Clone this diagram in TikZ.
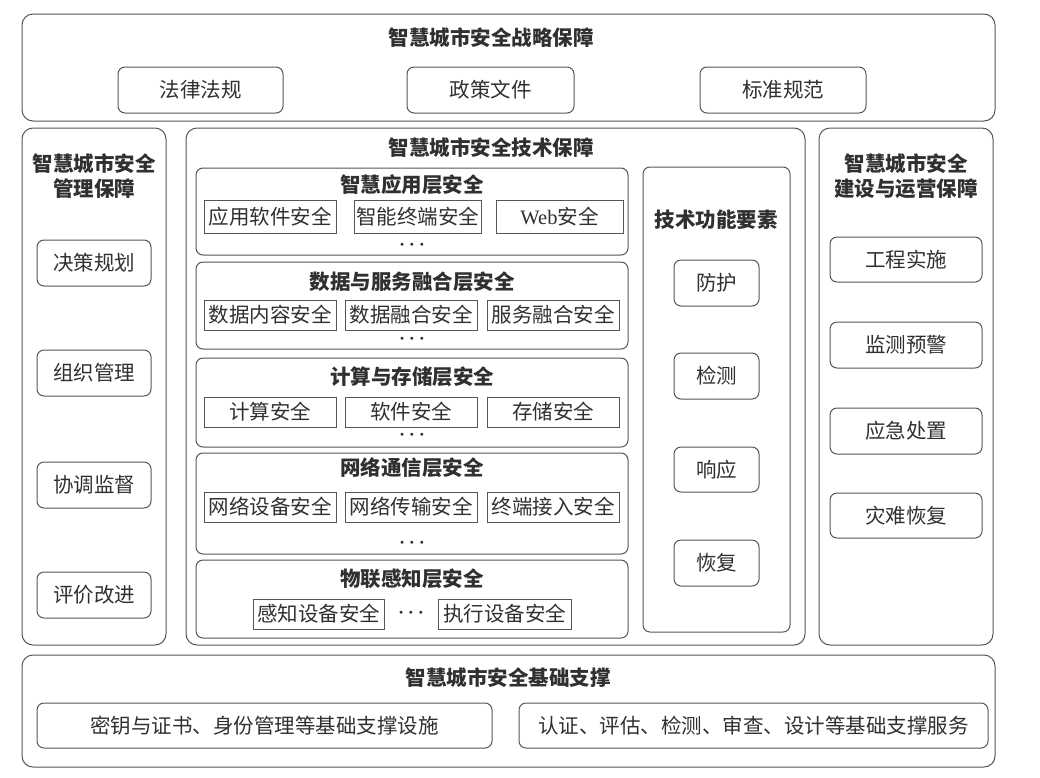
\documentclass[tikz,border=0pt]{standalone}
\usepackage{fontspec}
\setmainfont{Noto Sans CJK SC}
\newfontfamily\serifw{Liberation Serif}
\definecolor{ln}{HTML}{555555}
\definecolor{tx}{HTML}{303030}
\newcommand\bx[7]{\node[#6, minimum width={(#4-#2)*1pt}, minimum height={(#5-#3)*1pt}] (#1) at ({(#2+#4)/2},{(#3+#5)/2}) {#7};}
\newcommand\mydots{$\bullet\hspace{4pt}\bullet\hspace{4pt}\bullet$}
\tikzset{
  outer/.style={draw=ln, line width=1pt, rounded corners=11pt, inner sep=0pt, outer sep=0pt},
  rbox/.style={draw=ln, line width=1pt, rounded corners=7pt, inner sep=1pt, outer sep=0pt, text=tx, font=\fontsize{20.5}{22}\selectfont},
  sbox/.style={draw=ln, line width=1pt, inner sep=0.5pt, outer sep=0pt, text=tx, font=\fontsize{20.5}{22}\selectfont},
  ttl/.style={text=tx, align=center, inner sep=0pt, font=\fontsize{20.5}{25}\selectfont\bfseries},
  dts/.style={text=tx, inner sep=0pt, font=\fontsize{7}{7}\selectfont},
}
\begin{document}
\begin{tikzpicture}[x=1pt,y=-1pt]
\useasboundingbox[fill=white] (0,0) rectangle (1040,777);
% strategic
\bx{strat}{22}{14}{995}{121}{outer}{}
\node[ttl] (stratT) at (491,38) {智慧城市安全战略保障};
\bx{s1}{118}{67}{283}{113}{rbox}{法律法规}
\bx{s2}{407}{67}{574}{113}{rbox}{政策文件}
\bx{s3}{700}{67}{866}{113}{rbox}{标准规范}
% management
\bx{mgmt}{22}{128}{166}{645}{outer}{}
\node[ttl] (mgmtT) at (94,176) {智慧城市安全\\管理保障};
\bx{m1}{37}{240}{151}{286}{rbox}{决策规划}
\bx{m2}{37}{350}{151}{396}{rbox}{组织管理}
\bx{m3}{37}{462}{151}{508}{rbox}{协调监督}
\bx{m4}{37}{572}{151}{618}{rbox}{评价改进}
% technology
\bx{tech}{186}{128}{805}{645}{outer}{}
\node[ttl] (techT) at (491,148) {智慧城市安全技术保障};
% layer 1
\bx{L1}{196}{168}{628}{255}{rbox}{}
\node[ttl] (L1T) at (412,185) {智慧应用层安全};
\bx{a1}{204}{200}{336}{233}{sbox}{应用软件安全}
\bx{a2}{354}{200}{481}{233}{sbox}{智能终端安全}
\bx{a3}{496}{200}{623}{233}{sbox}{{\serifw Web}安全}
\node[dts] (L1d) at (412,245) {\mydots};
% layer 2
\bx{L2}{196}{262}{628}{349}{rbox}{}
\node[ttl] (L2T) at (412,282) {数据与服务融合层安全};
\bx{b21}{204}{300}{336}{330}{sbox}{数据内容安全}
\bx{b22}{345}{300}{477}{330}{sbox}{数据融合安全}
\bx{b23}{487}{300}{619}{330}{sbox}{服务融合安全}
\node[dts] (L2d) at (412,339) {\mydots};
% layer 3
\bx{L3}{196}{358}{628}{447}{rbox}{}
\node[ttl] (L3T) at (412,377) {计算与存储层安全};
\bx{b31}{204}{397}{336}{427}{sbox}{计算安全}
\bx{b32}{345}{397}{477}{427}{sbox}{软件安全}
\bx{b33}{487}{397}{619}{427}{sbox}{存储安全}
\node[dts] (L3d) at (412,435) {\mydots};
% layer 4
\bx{L4}{196}{453}{628}{554}{rbox}{}
\node[ttl] (L4T) at (412,468) {网络通信层安全};
\bx{b41}{204}{492}{336}{522}{sbox}{网络设备安全}
\bx{b42}{345}{492}{477}{522}{sbox}{网络传输安全}
\bx{b43}{487}{492}{619}{522}{sbox}{终端接入安全}
\node[dts] (L4d) at (412,543) {\mydots};
% layer 5
\bx{L5}{196}{560}{628}{638}{rbox}{}
\node[ttl] (L5T) at (412,579) {物联感知层安全};
\bx{b51}{253}{599}{384}{629}{sbox}{感知设备安全}
\bx{b52}{438}{599}{571}{629}{sbox}{执行设备安全}
\node[dts] (L5d) at (411,613) {\mydots};
% functional elements
\bx{func}{643}{167}{790}{632}{rbox}{}
\node[ttl] (funcT) at (716,220) {技术功能要素};
\bx{f1}{674}{260}{759}{306}{rbox}{防护}
\bx{f2}{674}{353}{759}{399}{rbox}{检测}
\bx{f3}{674}{447}{759}{492}{rbox}{响应}
\bx{f4}{674}{540}{759}{586}{rbox}{恢复}
% operations
\bx{ops}{819}{128}{993}{645}{outer}{}
\node[ttl] (opsT) at (906,176) {智慧城市安全\\建设与运营保障};
\bx{c1}{830}{237}{982}{282}{rbox}{工程实施}
\bx{c2}{830}{322}{982}{368}{rbox}{监测预警}
\bx{c3}{830}{408}{982}{454}{rbox}{应急处置}
\bx{c4}{830}{493}{982}{538}{rbox}{灾难恢复}
% base
\bx{base}{22}{655}{995}{767}{outer}{}
\node[ttl] (baseT) at (508,678) {智慧城市安全基础支撑};
\bx{d1}{37}{703}{492}{748}{rbox}{密钥与证书、身份管理等基础支撑设施}
\bx{d2}{519}{703}{988}{748}{rbox}{认证、评估、检测、审查、设计等基础支撑服务}
\end{tikzpicture}
\end{document}
